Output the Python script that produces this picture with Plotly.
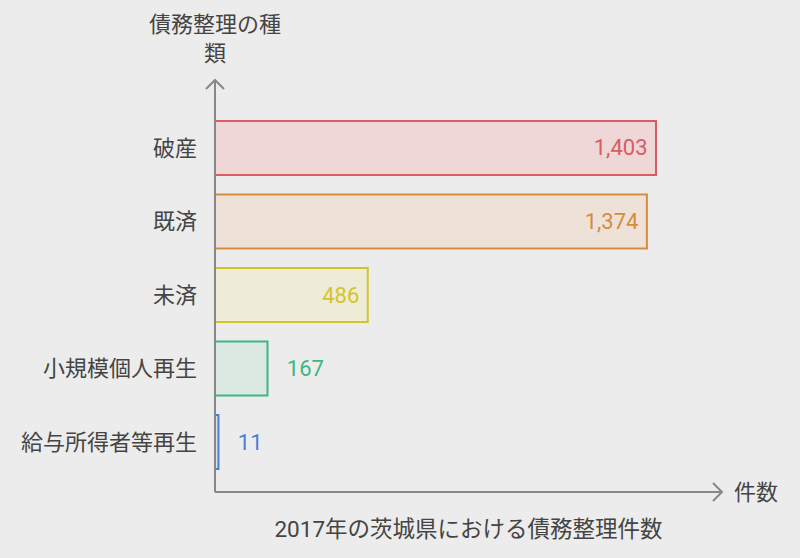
import plotly.graph_objects as go

categories = ["破産", "既済", "未済", "小規模個人再生", "給与所得者等再生"]
values = [1403, 1374, 486, 167, 11]
line_colors = ["#d95b63", "#d98b3c", "#d4c42a", "#3cb882", "#4a7fd4"]
fill_colors = ["#efd6d7", "#eee1d7", "#eeecd6", "#dce9e2", "#dbe2ee"]
text_pos = ["inside", "inside", "inside", "outside", "outside"]

x_title = "2017年の茨城県における債務整理件数"
y_title = "債務整理の種<br>類"
x_end_label = "件数"

FONT = "Roboto, 'Noto Sans CJK JP', sans-serif"
BG = "#ececec"
AXIS = "#888888"
TXT = "#444444"

labels = []
for v, p in zip(values, text_pos):
    s = f"{v:,}"
    labels.append(s + "\u00a0" if p == "inside" else "\u00a0\u00a0\u00a0" + s)

fig = go.Figure(go.Bar(
    x=values, y=categories, orientation="h",
    marker=dict(color=fill_colors, line=dict(color=line_colors, width=2)),
    text=labels, textposition=text_pos, insidetextanchor="end",
    textfont=dict(color=line_colors, size=22, family=FONT),
    cliponaxis=False, width=0.735,
))

fig.update_layout(
    width=800, height=558,
    margin=dict(l=215, r=78, t=80, b=66),
    paper_bgcolor=BG, plot_bgcolor=BG,
    showlegend=False,
    font=dict(family=FONT, color=TXT),
    xaxis=dict(range=[0, 1613], showgrid=False, zeroline=False, showticklabels=False,
               showline=False, fixedrange=True,
               title=dict(text=x_title, font=dict(size=22.5, color=TXT), standoff=29)),
    yaxis=dict(range=[4.68, -0.925], showgrid=False, zeroline=False, showline=False,
               tickfont=dict(size=22, color=TXT), ticklabelstandoff=17,
               categoryorder="array", categoryarray=categories),
    uniformtext=dict(mode=False),
)

# axes with open arrowheads
fig.add_shape(type="line", xref="paper", yref="paper", x0=0, x1=1, y0=0, y1=0,
              line=dict(color=AXIS, width=2))
fig.add_shape(type="line", xref="paper", yref="paper", x0=0, x1=0, y0=0, y1=1,
              line=dict(color=AXIS, width=2))
fig.add_shape(type="path", xref="paper", yref="paper", xsizemode="pixel", ysizemode="pixel",
              xanchor=1, yanchor=0, path="M -9,9 L 0,0 L -9,-9",
              line=dict(color=AXIS, width=2))
fig.add_shape(type="path", xref="paper", yref="paper", xsizemode="pixel", ysizemode="pixel",
              xanchor=0, yanchor=1, path="M -9,-9 L 0,0 L 9,-9",
              line=dict(color=AXIS, width=2))

fig.add_annotation(text=y_title, xref="paper", yref="paper", x=0, y=1, yshift=12,
                   xanchor="center", yanchor="bottom", showarrow=False,
                   font=dict(size=22, color=TXT), align="center")
fig.add_annotation(text=x_end_label, xref="paper", yref="paper", x=1, y=0, xshift=10,
                   xanchor="left", yanchor="middle", showarrow=False,
                   font=dict(size=22, color=TXT))

fig.write_html("out.html", config={"displayModeBar": False},
               post_script="document.body.style.margin='0';")
